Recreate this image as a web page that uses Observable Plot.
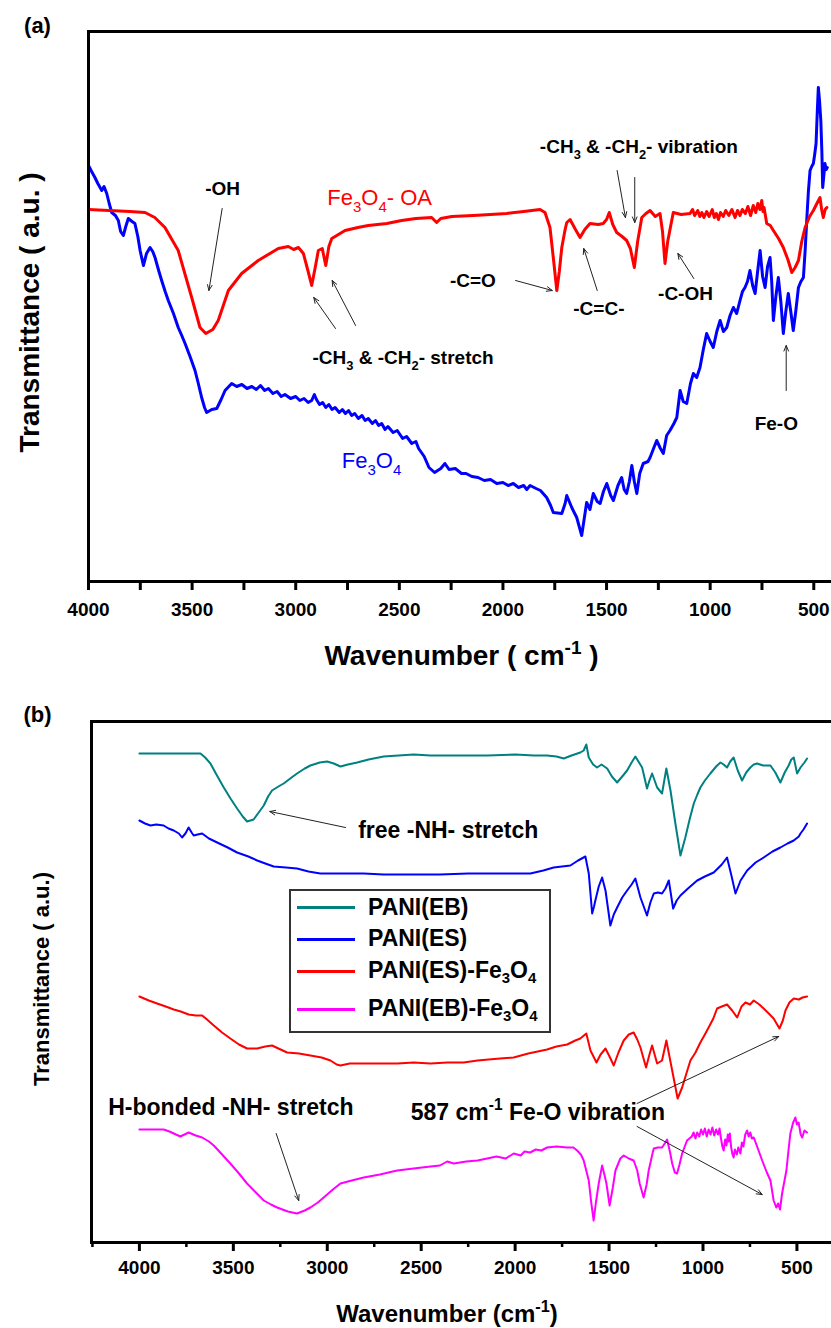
<!DOCTYPE html>
<html><head><meta charset="utf-8">
<script src="https://cdn.jsdelivr.net/npm/d3@7"></script>
<script src="https://cdn.jsdelivr.net/npm/@observablehq/plot@0.6"></script>
<style>
html,body{margin:0;padding:0;background:#fff;overflow:hidden}
#wrap{position:relative;width:831px;height:1328px;font-family:"Liberation Sans",Arial,sans-serif;overflow:hidden}
#wrap svg{display:block}
.legend{position:absolute;left:289px;top:889px;width:262px;height:144px;border:2px solid #333;background:#fff;box-sizing:border-box}
.legend .row{position:absolute;left:0;height:0}
.legend .sw{position:absolute;left:6px;width:58px;height:3px;top:-1.5px}
.legend .lb{position:absolute;left:77px;top:0;transform:translateY(-52%);font-size:23px;font-weight:bold;white-space:nowrap;color:#000}
.legend sub{font-size:0.65em;vertical-align:-0.35em;line-height:0}
</style></head><body>
<div id="wrap"><div id="a"></div><div id="b"></div></div>
<script>
// ---------- Panel (a) data: [wavenumber cm-1, transmittance a.u.] ----------
const fe3o4OA = [[4000,372],[3900,371],[3800,370],[3727,369],[3680,364],[3631,354],[3567,331],[3502,284],[3462,254],[3434,248],[3400,252],[3374,261],[3325,291],[3261,308],[3181,321],[3084,333],[3036,335],[3010,332],[2987,334],[2963,328],[2940,310],[2923,296],[2905,315],[2891,331],[2872,333],[2855,316],[2840,335],[2826,343],[2762,351],[2700,354],[2650,356],[2560,358],[2489,361],[2420,363],[2344,364],[2320,359],[2300,363],[2247,365],[2143,366],[2060,367],[1982,368],[1900,370],[1821,372],[1797,369],[1773,354],[1755,320],[1740,291],[1728,310],[1716,334],[1700,352],[1692,359],[1676,362],[1650,352],[1628,344],[1605,352],[1580,358],[1540,357],[1516,358],[1500,362],[1487,369],[1470,357],[1451,349],[1425,345],[1403,341],[1385,333],[1366,314],[1350,340],[1330,364],[1310,368],[1290,371],[1265,365],[1242,368],[1230,350],[1218,318],[1205,340],[1178,369],[1140,367],[1097,368],[1085,372],[1075,366],[1060,371],[1050,365],[1040,369],[1030,364],[1017,370],[1005,365],[990,372],[980,364],[970,368],[960,362],[950,369],[937,365],[925,371],[910,366],[895,372],[880,364],[868,371],[856,366],[845,372],[830,368],[818,375],[805,366],[792,376],[780,369],[770,378],[760,372],[751,381],[745,370],[740,374],[727,358],[710,356],[695,351],[670,343],[647,334],[625,322],[606,309],[590,314],[574,321],[558,340],[542,354],[520,365],[502,371],[485,378],[470,384],[462,372],[454,364],[445,372],[437,374]];
const fe3o4 = [[4000,416],[3985,410],[3969,404],[3955,398],[3936,391],[3925,395],[3912,388],[3900,378],[3888,369],[3870,366],[3856,361],[3845,350],[3832,346],[3820,355],[3808,363],[3790,360],[3776,358],[3762,345],[3751,331],[3735,316],[3720,328],[3703,334],[3690,330],[3679,324],[3660,310],[3647,301],[3630,290],[3615,281],[3590,268],[3567,254],[3550,246],[3534,238],[3510,225],[3486,211],[3470,198],[3454,184],[3440,174],[3430,169],[3405,172],[3381,173],[3360,182],[3341,191],[3309,198],[3285,195],[3260,197],[3235,193],[3212,195],[3190,192],[3170,196],[3150,191],[3132,193],[3110,188],[3090,190],[3070,185],[3052,187],[3025,183],[3000,185],[2980,181],[2960,183],[2940,179],[2923,181],[2910,187],[2900,182],[2885,177],[2870,179],[2855,174],[2840,177],[2825,172],[2810,174],[2790,169],[2775,172],[2760,168],[2745,171],[2730,166],[2715,168],[2698,163],[2680,166],[2665,161],[2650,163],[2630,158],[2615,161],[2600,156],[2585,158],[2569,152],[2555,155],[2530,149],[2510,151],[2484,143],[2465,145],[2440,138],[2420,140],[2407,133],[2380,125],[2357,114],[2330,109],[2300,113],[2280,118],[2260,112],[2230,113],[2200,108],[2178,108],[2150,105],[2120,104],[2090,101],[2060,102],[2030,98],[2000,99],[1975,96],[1950,98],[1925,94],[1900,96],[1885,92],[1869,96],[1840,93],[1819,91],[1789,84],[1770,76],[1757,69],[1716,68],[1700,78],[1692,86],[1668,74],[1644,64],[1620,46],[1596,79],[1580,72],[1564,88],[1545,80],[1531,78],[1515,90],[1499,98],[1480,86],[1467,81],[1445,96],[1427,104],[1415,92],[1403,88],[1390,100],[1378,116],[1366,100],[1354,88],[1340,108],[1323,118],[1300,120],[1290,124],[1275,132],[1258,141],[1240,133],[1226,128],[1210,146],[1194,151],[1175,158],[1161,164],[1145,191],[1130,180],[1113,178],[1095,198],[1081,208],[1065,204],[1049,214],[1033,232],[1017,248],[1000,240],[985,234],[968,250],[952,261],[936,250],[920,254],[904,266],[888,274],[872,268],[856,281],[844,290],[832,294],[820,300],[808,311],[795,296],[783,288],[771,310],[759,331],[747,305],[735,294],[723,315],[711,324],[703,300],[695,261],[683,285],[671,304],[659,280],[647,248],[635,270],[623,288],[611,270],[599,251],[587,270],[574,294],[562,300],[550,304],[542,330],[534,361],[526,390],[518,411],[510,415],[502,418],[495,428],[489,438],[483,470],[478,494],[472,480],[466,461],[461,430],[457,394],[452,405],[446,418],[440,412],[435,414]];
const ticksA = [4000,3750,3500,3250,3000,2750,2500,2250,2000,1750,1500,1250,1000,750,500];
const labelsA = [
  {wn:3353, v:393, text:"-OH"},
  {wn:2482, v:224, text:"-CH_{3} & -CH_{2}- stretch"},
  {wn:2145, v:301, text:"-C=O"},
  {wn:1537, v:273, text:"-C=C-"},
  {wn:1119, v:288, text:"-C-OH"},
  {wn:1344, v:435, text:"-CH_{3} & -CH_{2}- vibration"},
  {wn:681,  v:158, text:"Fe-O"}
];
const seriesLabelsA = [
  {wn:2595, v:384, text:"Fe_{3}O_{4}- OA", color:"#ff0000"},
  {wn:2634, v:121, text:"Fe_{3}O_{4}", color:"#0000ff"}
];
const arrowsA = [
  {x1:3355,y1:373,x2:3419,y2:291},
  {x1:2808,y1:253,x2:2913,y2:284},
  {x1:2711,y1:256,x2:2824,y2:301},
  {x1:1939,y1:301,x2:1762,y2:291},
  {x1:1545,y1:291,x2:1610,y2:333},
  {x1:1079,y1:303,x2:1156,y2:328},
  {x1:1449,y1:411,x2:1409,y2:364},
  {x1:1364,y1:404,x2:1364,y2:359},
  {x1:633,y1:191,x2:633,y2:236}
];

// ---------- Panel (b) data ----------
const paniEB = [[4000,489],[3900,489],[3800,489],[3700,489],[3675,489],[3650,485],[3622,479],[3590,468],[3551,455],[3515,444],[3480,434],[3450,426],[3427,421],[3392,423],[3365,430],[3338,437],[3315,446],[3294,452],[3260,456],[3232,459],[3190,465],[3161,469],[3120,474],[3090,477],[3040,480],[3001,481],[2965,479],[2930,476],[2890,478],[2841,480],[2780,483],[2700,486],[2620,487],[2540,488],[2450,487],[2362,487],[2250,487],[2149,487],[2000,488],[1900,487],[1830,487],[1780,486],[1741,484],[1700,487],[1653,490],[1635,492],[1621,498],[1608,485],[1585,478],[1564,475],[1540,478],[1510,474],[1485,466],[1457,460],[1430,466],[1404,472],[1380,480],[1360,486],[1324,475],[1298,454],[1285,462],[1271,469],[1244,455],[1218,449],[1195,474],[1173,452],[1147,419],[1120,387],[1094,405],[1070,424],[1049,439],[1030,448],[1014,455],[990,462],[961,469],[930,476],[907,480],[890,478],[872,475],[855,481],[837,485],[815,472],[792,462],[770,470],[748,475],[730,478],[712,479],[680,477],[641,477],[615,470],[588,460],[565,470],[544,477],[530,483],[517,485],[499,469],[481,475],[460,480],[446,484]];
const paniES = [[4000,422],[3970,419],[3941,417],[3910,418],[3871,417],[3845,414],[3817,412],[3790,409],[3773,405],[3755,409],[3738,415],[3722,410],[3711,407],[3690,408],[3666,409],[3630,404],[3586,400],[3530,395],[3480,390],[3420,386],[3373,382],[3330,379],[3285,376],[3220,375],[3161,374],[3100,371],[3037,369],[2950,369],[2806,369],[2700,368],[2575,368],[2400,368],[2250,369],[2149,369],[2030,369],[1919,369],[1850,372],[1795,375],[1750,376],[1706,377],[1665,382],[1626,386],[1608,369],[1590,329],[1580,336],[1573,342],[1555,356],[1537,365],[1519,352],[1493,317],[1475,328],[1457,335],[1430,345],[1404,352],[1380,358],[1360,364],[1333,345],[1298,327],[1280,340],[1262,349],[1240,350],[1218,349],[1200,354],[1182,362],[1159,334],[1140,342],[1120,347],[1080,354],[1031,362],[990,366],[943,370],[900,378],[872,385],[850,368],[827,349],[800,362],[765,372],[720,380],[677,385],[630,391],[588,395],[550,399],[517,402],[490,406],[481,409],[465,413],[446,419]];
const paniESFe = [[4000,246],[3950,242],[3906,239],[3860,236],[3817,233],[3780,231],[3738,228],[3700,227],[3666,227],[3640,223],[3604,217],[3560,210],[3516,204],[3470,198],[3427,194],[3373,194],[3330,196],[3294,197],[3260,194],[3214,190],[3150,189],[3090,187],[3030,185],[2983,182],[2950,178],[2930,177],[2880,179],[2806,179],[2700,179],[2628,179],[2540,180],[2451,179],[2360,180],[2274,180],[2200,182],[2141,183],[2080,184],[2008,185],[1930,189],[1830,193],[1780,196],[1723,198],[1680,202],[1653,204],[1621,209],[1599,192],[1567,180],[1545,188],[1519,194],[1495,185],[1475,177],[1450,190],[1422,202],[1395,208],[1369,210],[1350,203],[1333,195],[1303,175],[1285,188],[1271,197],[1244,179],[1218,182],[1195,202],[1164,172],[1135,144],[1111,155],[1090,168],[1067,182],[1040,190],[1014,200],[990,208],[970,215],[945,224],[925,234],[900,236],[872,238],[845,232],[818,225],[795,236],[774,240],[750,238],[730,242],[700,238],[677,234],[650,229],[624,224],[593,214],[575,222],[561,232],[540,240],[517,244],[490,243],[470,245],[446,246]];
const paniEBFe = [[4000,113],[3930,113],[3871,113],[3840,111],[3817,109],[3782,106],[3760,108],[3738,110],[3700,107],[3666,105],[3630,101],[3604,97],[3560,88],[3516,79],[3470,69],[3427,59],[3380,50],[3338,42],[3300,38],[3267,35],[3210,31],[3161,29],[3120,32],[3090,35],[3050,40],[3019,45],[2970,53],[2930,59],[2870,62],[2806,65],[2720,68],[2628,72],[2540,74],[2451,76],[2400,77],[2362,81],[2327,79],[2260,81],[2200,82],[2149,84],[2100,86],[2050,84],[2008,89],[1970,87],[1950,91],[1920,90],[1890,93],[1860,92],[1830,95],[1780,96],[1723,95],[1690,95],[1670,92],[1650,88],[1635,82],[1608,62],[1595,40],[1582,22],[1570,40],[1555,59],[1537,77],[1525,68],[1514,59],[1497,37],[1480,55],[1466,72],[1440,84],[1422,87],[1395,84],[1369,82],[1350,72],[1337,59],[1316,45],[1300,58],[1289,72],[1270,88],[1262,94],[1240,95],[1218,95],[1200,100],[1191,103],[1175,90],[1164,79],[1150,70],[1138,69],[1125,78],[1111,89],[1085,102],[1060,106],[1050,110],[1040,104],[1031,110],[1020,106],[1010,113],[1000,108],[990,114],[980,106],[970,113],[960,108],[950,115],[940,107],[930,113],[920,108],[912,114],[905,105],[897,96],[890,92],[882,103],[875,97],[868,108],[863,101],[857,109],[850,95],[843,88],[837,85],[830,93],[820,88],[812,95],[801,89],[793,100],[785,96],[775,108],[765,112],[757,106],[748,110],[740,104],[730,105],[710,95],[685,82],[660,70],[641,62],[624,42],[610,35],[600,39],[590,33],[579,49],[566,62],[556,72],[545,92],[535,109],[520,120],[508,125],[500,118],[491,120],[480,108],[472,105],[460,112],[446,110]];
const majorTicksB = [4000,3500,3000,2500,2000,1500,1000,500];
const minorTicksB = [4250,3750,3250,2750,2250,1750,1250,750];
const labelsB = [
  {wn:2356, v:412, text:"free -NH- stretch"},
  {wn:3513, v:135, text:"H-bonded -NH- stretch"},
  {wn:1879, v:130, text:"587 cm^{-1} Fe-O vibration"}
];
const arrowsB = [
  {x1:2903,y1:415,x2:3306,y2:431},
  {x1:3272,y1:109,x2:3152,y2:42},
  {x1:1351,y1:139,x2:597,y2:206},
  {x1:1351,y1:116,x2:685,y2:48}
];
const legendNames = ["PANI(EB)","PANI(ES)","PANI(ES)-Fe<sub>3</sub>O<sub>4</sub>","PANI(EB)-Fe<sub>3</sub>O<sub>4</sub>"];
const legendColors = ["#008080","#0000ff","#ff0000","#ff00ff"];

const FONT = "'Liberation Sans', Arial, Helvetica, sans-serif";
const pt = d => ({wn: d[0], v: d[1]});

const chartA = Plot.plot({
  width: 831, height: 680,
  marginTop: 31, marginBottom: 99, marginLeft: 88, marginRight: -3,
  x: {domain: [4000, 400], axis: null},
  y: {domain: [0, 550], axis: null},
  style: {fontFamily: FONT, fontWeight: "bold", color: "black", background: "white"},
  marks: [
    Plot.line(fe3o4.map(pt), {x: "wn", y: "v", stroke: "#0000ff", strokeWidth: 3, strokeLinejoin: "round"}),
    Plot.line(fe3o4OA.map(pt), {x: "wn", y: "v", stroke: "#ff0000", strokeWidth: 3, strokeLinejoin: "round"}),
    Plot.frame({stroke: "black", strokeWidth: 3}),
    Plot.axisX({ticks: ticksA, tickSize: 9, tickPadding: 12, strokeWidth: 3, fontSize: 19, tickFormat: d => d % 500 === 0 ? String(d) : ""}),
    Plot.arrow(arrowsA, {x1: "x1", y1: "y1", x2: "x2", y2: "y2", stroke: "#222", strokeWidth: 1, headLength: 9, headAngle: 45}),
    Plot.text(labelsA, {x: "wn", y: "v", text: "text", fontSize: 19, fill: "black"}),
    Plot.text(seriesLabelsA, {x: "wn", y: "v", text: "text", fontSize: 22, fontWeight: "normal", fill: d => d.color}),
    Plot.text(["(a)"], {text: d => d, frameAnchor: "top-left", textAnchor: "middle", lineAnchor: "middle", dx: -51, dy: -6, fontSize: 22}),
    Plot.text(["Wavenumber ( cm^{-1} )"], {text: d => d, frameAnchor: "bottom", textAnchor: "middle", lineAnchor: "middle", dy: 75, fontSize: 28}),
    Plot.text(["Transmittance ( a.u. )"], {text: d => d, frameAnchor: "left", textAnchor: "middle", lineAnchor: "middle", rotate: -90, dx: -58, dy: 6, fontSize: 28})
  ]
});

const chartB = Plot.plot({
  width: 831, height: 648,
  marginTop: 41, marginBottom: 86, marginLeft: 91, marginRight: -3,
  x: {domain: [4255, 300], axis: null},
  y: {domain: [0, 521], axis: null},
  style: {fontFamily: FONT, fontWeight: "bold", color: "black", background: "white"},
  marks: [
    Plot.line(paniEB.map(pt), {x: "wn", y: "v", stroke: legendColors[0], strokeWidth: 2}),
    Plot.line(paniES.map(pt), {x: "wn", y: "v", stroke: legendColors[1], strokeWidth: 2}),
    Plot.line(paniESFe.map(pt), {x: "wn", y: "v", stroke: legendColors[2], strokeWidth: 2}),
    Plot.line(paniEBFe.map(pt), {x: "wn", y: "v", stroke: legendColors[3], strokeWidth: 2}),
    Plot.frame({stroke: "black", strokeWidth: 3}),
    Plot.axisX({ticks: majorTicksB, tickSize: 9, tickPadding: 9, strokeWidth: 3, fontSize: 19, tickFormat: d => String(d)}),
    Plot.axisX({ticks: minorTicksB, tickSize: 5, strokeWidth: 2.5, tickFormat: () => ""}),
    Plot.arrow(arrowsB, {x1: "x1", y1: "y1", x2: "x2", y2: "y2", stroke: "#222", strokeWidth: 1, headLength: 9, headAngle: 45}),
    Plot.text(labelsB, {x: "wn", y: "v", text: "text", fontSize: 23, fill: "black"}),
    Plot.text(["(b)"], {text: d => d, frameAnchor: "top-left", textAnchor: "middle", lineAnchor: "middle", dx: -54, dy: -7, fontSize: 22}),
    Plot.text(["Wavenumber (cm^{-1})"], {text: d => d, frameAnchor: "bottom", textAnchor: "middle", lineAnchor: "middle", dx: -16, dy: 72, fontSize: 24}),
    Plot.text(["Transmittance ( a.u.)"], {text: d => d, frameAnchor: "left", textAnchor: "middle", lineAnchor: "middle", rotate: -90, dx: -50, dy: -3, fontSize: 22})
  ]
});

document.getElementById("a").appendChild(chartA);
document.getElementById("b").appendChild(chartB);

function rich(root) {
  root.querySelectorAll("text").forEach(t => {
    const s = t.textContent;
    if (!/[_^]\{/.test(s)) return;
    const fs = parseFloat(getComputedStyle(t).fontSize) || 16;
    const parts = [];
    const re = /([_^])\{([^}]*)\}/g;
    let last = 0, m;
    while ((m = re.exec(s))) {
      if (m.index > last) parts.push([null, s.slice(last, m.index)]);
      parts.push([m[1], m[2]]);
      last = re.lastIndex;
    }
    if (last < s.length) parts.push([null, s.slice(last)]);
    t.textContent = "";
    let cur = 0;
    for (const [k, str] of parts) {
      const ts = document.createElementNS("http://www.w3.org/2000/svg", "tspan");
      const off = k === "_" ? 0.32 * fs : k === "^" ? -0.42 * fs : 0;
      ts.setAttribute("dy", (off - cur).toFixed(2));
      cur = off;
      if (k) ts.setAttribute("font-size", (0.68 * fs).toFixed(1));
      ts.textContent = str;
      t.appendChild(ts);
    }
  });
}
rich(chartA);
rich(chartB);

// legend (HTML, placed over panel b)
const leg = document.createElement("div");
leg.className = "legend";
const rowY = [16.7, 48, 80, 118.3];
legendNames.forEach((name, i) => {
  const row = document.createElement("div");
  row.className = "row";
  row.style.top = rowY[i] + "px";
  row.innerHTML = `<div class="sw" style="background:${legendColors[i]}"></div><div class="lb">${name}</div>`;
  leg.appendChild(row);
});
document.getElementById("wrap").appendChild(leg);
</script>
</body></html>
